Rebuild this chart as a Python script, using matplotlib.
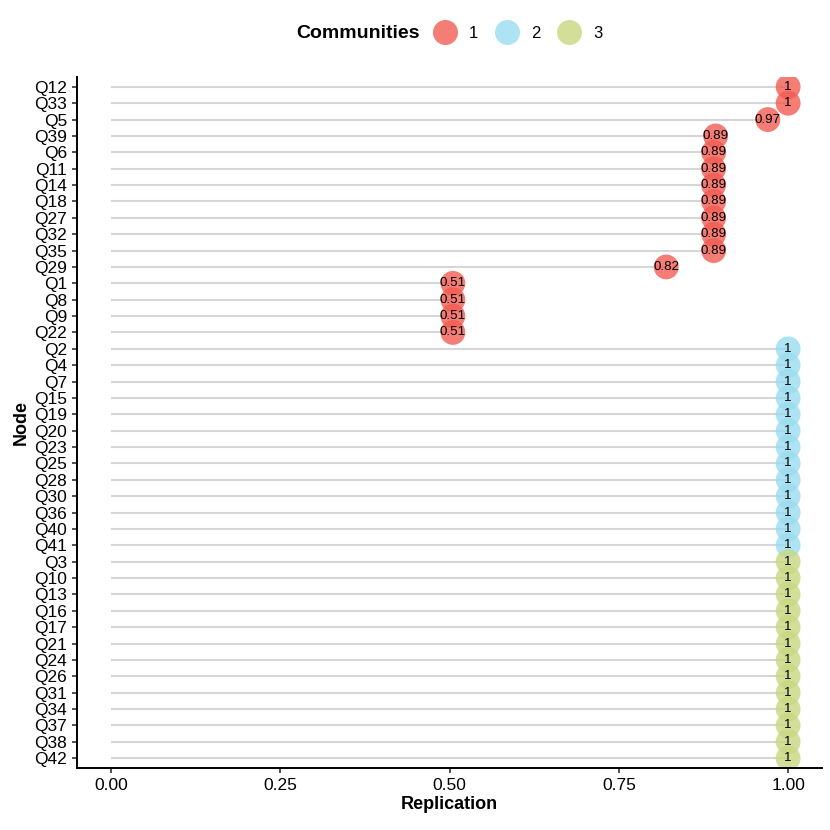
import matplotlib
matplotlib.use("Agg")
import matplotlib.pyplot as plt
from matplotlib.lines import Line2D
from matplotlib.offsetbox import HPacker

plt.rcParams["font.family"] = ["Liberation Sans", "DejaVu Sans"]

# data, top to bottom as drawn
nodes_c1 = ["Q12", "Q33", "Q5", "Q39", "Q6", "Q11", "Q14", "Q18", "Q27", "Q32",
            "Q35", "Q29", "Q1", "Q8", "Q9", "Q22"]
repl_c1 = [1.0, 1.0, 0.97, 0.893, 0.89, 0.89, 0.89, 0.89, 0.89, 0.89,
           0.89, 0.82, 0.505, 0.505, 0.505, 0.505]
nodes_c2 = ["Q2", "Q4", "Q7", "Q15", "Q19", "Q20", "Q23", "Q25", "Q28", "Q30",
            "Q36", "Q40", "Q41"]
repl_c2 = [1.0] * len(nodes_c2)
nodes_c3 = ["Q3", "Q10", "Q13", "Q16", "Q17", "Q21", "Q24", "Q26", "Q31", "Q34",
            "Q37", "Q38", "Q42"]
repl_c3 = [1.0] * len(nodes_c3)

communities = ["1", "2", "3"]
colors = ["#F25C52", "#9ADCF0", "#C8D880"]

nodes = nodes_c1 + nodes_c2 + nodes_c3
repl = repl_c1 + repl_c2 + repl_c3
comm = [0] * len(nodes_c1) + [1] * len(nodes_c2) + [2] * len(nodes_c3)

fig = plt.figure(figsize=(8.3, 8.3), dpi=100)
ax = fig.add_axes([77 / 830, 62 / 830, 745 / 830, 691 / 830])

n = len(nodes)
ys = [n - 1 - i for i in range(n)]

ax.hlines(ys, 0, repl, color="#D6D6D6", linewidth=1.5, zorder=1)
for y, v, c in zip(ys, repl, comm):
    ax.scatter(v, y, s=320, color=colors[c], alpha=0.8, edgecolors="none", zorder=2)
    lab = f"{v:.2f}".rstrip("0").rstrip(".") if v < 1 else "1"
    ax.text(v, y, lab, ha="center", va="center", fontsize=9.6, zorder=3)

ax.set_xlim(-0.05, 1.05)
ax.set_ylim(-0.6, n - 1 + 0.6)
ax.set_yticks(ys)
ax.set_yticklabels(nodes, fontsize=12.5)
ax.set_xticks([0, 0.25, 0.5, 0.75, 1.0])
ax.set_xticklabels(["0.00", "0.25", "0.50", "0.75", "1.00"], fontsize=12.5)
ax.tick_params(length=3.5, width=1.1, pad=3.5, colors="#222222", labelcolor="black")
for s in ["top", "right"]:
    ax.spines[s].set_visible(False)
for s in ["left", "bottom"]:
    ax.spines[s].set_linewidth(1.4)

ax.set_xlabel("Replication", fontsize=13, fontweight="bold", labelpad=2)
ax.set_ylabel("Node", fontsize=13, fontweight="bold", labelpad=3)

handles = [Line2D([], [], marker="o", linestyle="none", markersize=18,
                  markerfacecolor=col, markeredgecolor="none", alpha=0.8)
           for col in colors]
leg = fig.legend(handles, communities, title="Communities", loc="center",
                 bbox_to_anchor=(0.541, 1 - 33 / 830), ncol=3, frameon=False,
                 fontsize=12, title_fontproperties={"weight": "bold", "size": 14},
                 handletextpad=0.75, columnspacing=1.0, handlelength=1.4)
# put the title to the left of the entries, like ggplot's top legend
title_box = leg._legend_title_box
entries = leg._legend_handle_box
leg._legend_box._children = [HPacker(pad=0, sep=10, children=[title_box, entries],
                                     align="center")]

fig.savefig("out.png", dpi=100)
